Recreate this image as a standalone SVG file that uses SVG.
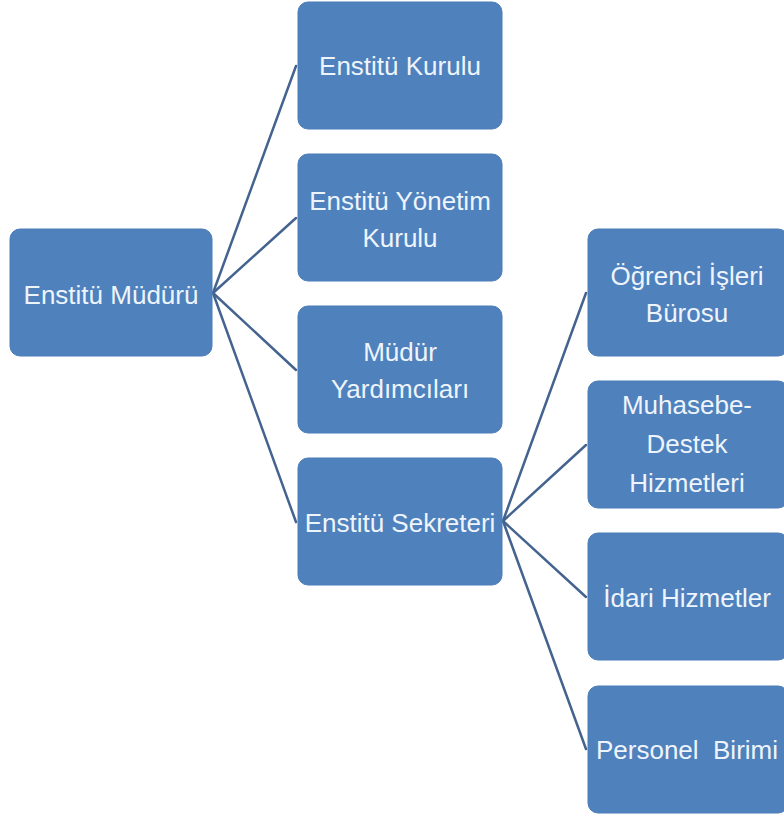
<svg xmlns="http://www.w3.org/2000/svg" width="784" height="817" viewBox="0 0 784 817">
<style>
.box{fill:#4f81bd;stroke:#4a7cb8;stroke-width:1}
.t{font-family:"Liberation Sans","Open Sans",sans-serif;font-size:26px;fill:#eef4fb;text-anchor:middle;white-space:pre}
.c{stroke:#44648f;stroke-width:2.5;fill:none;stroke-linecap:round}
</style>
<rect width="784" height="817" fill="#ffffff"/>
<g id="connectors">
<line class="c" x1="213" y1="293" x2="296" y2="66"/>
<line class="c" x1="213" y1="293" x2="296" y2="218"/>
<line class="c" x1="213" y1="293" x2="296" y2="370"/>
<line class="c" x1="213" y1="293" x2="296" y2="522"/>
<line class="c" x1="503" y1="521" x2="586" y2="293"/>
<line class="c" x1="503" y1="521" x2="586" y2="445"/>
<line class="c" x1="503" y1="521" x2="586" y2="597"/>
<line class="c" x1="503" y1="521" x2="586" y2="749"/>
</g>
<g id="mudur">
<rect class="box" x="10" y="229" width="202" height="127" rx="10"/>
<text class="t" x="111" y="304">Enstitü Müdürü</text>
</g>
<g id="kurul">
<rect class="box" x="298" y="2" width="204" height="127" rx="10"/>
<text class="t" x="400" y="75">Enstitü Kurulu</text>
</g>
<g id="yonetim">
<rect class="box" x="298" y="154" width="204" height="127" rx="10"/>
<text class="t" x="400" y="210">Enstitü Yönetim</text>
<text class="t" x="400" y="247">Kurulu</text>
</g>
<g id="yardimci">
<rect class="box" x="298" y="306" width="204" height="127" rx="10"/>
<text class="t" x="400" y="361">Müdür</text>
<text class="t" x="400" y="398">Yardımcıları</text>
</g>
<g id="sekreter">
<rect class="box" x="298" y="458" width="204" height="127" rx="10"/>
<text class="t" x="400" y="532">Enstitü Sekreteri</text>
</g>
<g id="ogrenci">
<rect class="box" x="588" y="229" width="200" height="127" rx="10"/>
<text class="t" x="687" y="285">Öğrenci İşleri</text>
<text class="t" x="687" y="322">Bürosu</text>
</g>
<g id="muhasebe">
<rect class="box" x="588" y="381" width="200" height="127" rx="10"/>
<text class="t" x="687" y="414">Muhasebe-</text>
<text class="t" x="687" y="453">Destek</text>
<text class="t" x="687" y="492">Hizmetleri</text>
</g>
<g id="idari">
<rect class="box" x="588" y="533" width="200" height="127" rx="10"/>
<text class="t" x="687" y="607">İdari Hizmetler</text>
</g>
<g id="personel">
<rect class="box" x="588" y="686" width="200" height="127" rx="10"/>
<text class="t" x="687" y="759">Personel  Birimi</text>
</g>
</svg>
